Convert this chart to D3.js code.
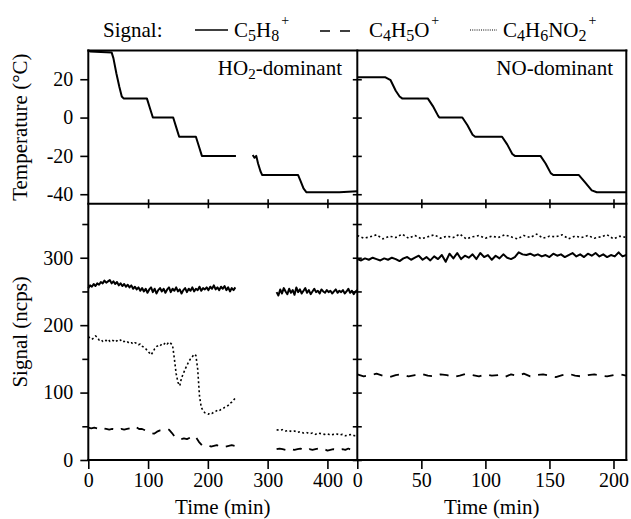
<!DOCTYPE html>
<html>
<head>
<meta charset="utf-8">
<script src="https://cdn.jsdelivr.net/npm/d3@7"></script>
<style>
body { margin: 0; background: #fff; }
svg { display: block; }
.axis line { stroke: #000; stroke-width: 1.6; }
.axis .domain { display: none; }
</style>
</head>
<body>
<div id="chart"></div>
<script>
/* TEMPERATURE (degC), [time (min), value] */
const tempHO2_a = [[0,35],[3,34.5],[39,34],[42,31],[47,23],[52,16],[56,11],[59,10],[98,10],[103,5],[108,0],[142,0],[147,-5],[152,-10],[180,-10],[185,-15],[190,-20],[247,-20]]
const tempHO2_b = [[275,-19.5],[278,-21],[281,-20],[284,-24],[288,-28],[291,-30],[351,-30],[355,-33],[360,-37],[365,-39],[420,-39],[450,-38.5]]
const tempNO = [[0,21],[22,21],[26,19.5],[30,14],[33,11],[35,10],[55,10],[59,6],[63,1],[64,0],[82,0],[86,-4],[90,-9],[92,-10],[113,-10],[117,-14],[121,-19],[123,-20],[143,-20],[147,-24],[151,-29],[153,-30],[173,-30],[178,-34],[183,-38],[187,-39],[210,-39]]

/* SIGNAL (ncps), sampled every `step` minutes from `start` */
// HO2-dominant, first part (start 0)
const c5h8_HO2_a = [255,259,257,261,258,262,260,264,262,266, 263,265,267,262,265,261,264,259,262,258,
  261,257,260,256,259,254,257,253,256,251, 255,250,254,248,253,256,249,254,247,252,
  255,250,254,248,253,256,249,254,251,256, 250,253,247,252,255,249,254,251,256,250,
  254,252,257,251,255,253,256,252,257,254, 259,253,256,252,257,254,258,252,256,250,
  255,252,256]
const c4h6no2_HO2_a = [183,181,179,181,184,182,178,179,176,178, 177,179,176,178,177,175,177,176,178,175,
  176,174,175,173,174,172,174,173,171,172, 169,167,165,162,159,156,160,165,168,170,
  169,172,171,174,172,175,173,170,150,128, 115,110,122,128,135,140,146,150,153,157,
  155,135,95,78,73,70,69,68,70,69, 71,72,74,73,75,76,78,79,81,84,
  86,89,92]
const c4h5o_HO2_a = [48,47,48,47,49,47,46,45,46,45, 44,46,45,46,47,50,49,46,46,44,
  42,40,39,42,44,45,44,45,40,34, 32,31,32,31,33,36,34,27,22,21,
  22,20,21,22,20,21,20,21,22,21]
// HO2-dominant, second part (start 315)
const c5h8_HO2_b = [249,244,253,247,255,250,246,254,248,252, 245,256,249,253,247,251,255,248,252,246,
  250,254,249,251,247,253,250,248,252,249, 251,247,250,253,248,251,249,252,247,250,
  254,248,251,246,250,252]
const c4h6no2_HO2_b = [45,44,45,43,44,42,43,41,42,40, 41,39,40,38,40,39,38,39,37,38, 39,37,38,36,37,38,36,37]
const c4h5o_HO2_b = [16,17,16,15,17,16,15,16,17,15, 14,16,15,16,17,15,16,14,15,16, 15,14,16,15,17,15,14,16]
// NO-dominant (start 0)
const c5h8_NO = [298,296,299,297,300,298,296,299,297,300, 298,295,299,301,297,300,303,297,301,296,
  302,298,304,294,306,299,307,298,303,300, 305,298,307,301,304,297,303,299,305,300,
  298,301,308,305,304,306,303,305,302,304, 301,306,303,305,301,304,307,302,305,301,
  306,303,307,302,305,301,304,302,308,302, 304]
const c4h6no2_NO = [333,329,331,334,328,332,330,335,329,333, 328,331,334,329,332,330,335,328,331,333,
  329,332,330,334,331,328,333,330,335,329, 332,331,334,328,332,330,333,329,331,334, 328,332,330]
const c4h5o_NO = [127,124,126,128,125,123,126,127,124,126, 128,125,124,127,126,123,125,128,126,124,
  127,125,126,123,127,125,128,124,126,127, 125,123,126,128,125,124,126,127,125,124, 126,127,125]

/* TICKS */
const tempTicks = [-40, -20, 0, 20]
const signalTicks = [0, 100, 200, 300]
const signalMinor = [50, 150, 250, 350]
const timeTicksL = [0, 100, 200, 300, 400]
const timeTicksR = [0, 50, 100, 150, 200]

const FONT = "Liberation Serif"

function sampled(start, step, values) {
    return values.map((v, i) => [start + i * step, v])
}

const W = 631, H = 519
const xLeft = 88.3, xMid = 357.3, xRight = 626.3
const yTop = 50.5, yMid = 203.8, yBottom = 460

const svg = d3.select("#chart")
    .append("svg")
    .attr("width", W)
    .attr("height", H)
    .attr("font-family", FONT)

const xL = d3.scaleLinear().domain([0, 450]).range([xLeft, xMid])
const xR = d3.scaleLinear().domain([0, 210]).range([xMid, xRight])
const yT = d3.scaleLinear().domain([-45, 35]).range([yMid, yTop])
const yB = d3.scaleLinear().domain([0, 380]).range([yBottom, yMid])

/* DATA LINES */
function drawLine(x, y, data, dash, width) {
    svg.append("path")
        .datum(data)
        .attr("fill", "none")
        .attr("stroke", "#000")
        .attr("stroke-width", width)
        .attr("stroke-dasharray", dash)
        .attr("stroke-linejoin", "round")
        .attr("d", d3.line().x(d => x(d[0])).y(d => y(d[1])))
}

drawLine(xL, yT, tempHO2_a, null, 2)
drawLine(xL, yT, tempHO2_b, null, 2)
drawLine(xR, yT, tempNO, null, 2)

drawLine(xL, yB, sampled(0, 3, c5h8_HO2_a), null, 2)
drawLine(xL, yB, sampled(315, 3, c5h8_HO2_b), null, 2)
drawLine(xL, yB, sampled(0, 3, c4h6no2_HO2_a), "2,2.5", 1.6)
drawLine(xL, yB, sampled(315, 5, c4h6no2_HO2_b), "2,2.5", 1.6)
drawLine(xL, yB, sampled(0, 5, c4h5o_HO2_a), "9,8", 1.8)
drawLine(xL, yB, sampled(315, 5, c4h5o_HO2_b), "9,8", 1.8)

drawLine(xR, yB, sampled(0, 3, c5h8_NO), null, 2)
drawLine(xR, yB, sampled(0, 5, c4h6no2_NO), "2,2.5", 1.6)
drawLine(xR, yB, sampled(0, 5, c4h5o_NO), "9,8", 1.8)

/* FRAME */
const frame = [
    [xLeft, yTop, xRight, yTop], [xLeft, yBottom, xRight, yBottom],
    [xLeft, yTop, xLeft, yBottom], [xRight, yTop, xRight, yBottom],
    [xMid, yTop, xMid, yBottom], [xLeft, yMid, xRight, yMid]
]
svg.selectAll("frame-line")
    .data(frame)
    .join("line")
    .attr("x1", d => d[0]).attr("y1", d => d[1])
    .attr("x2", d => d[2]).attr("y2", d => d[3])
    .attr("stroke", "#000")
    .attr("stroke-width", 2)
    .attr("stroke-linecap", "square")

/* AXES */
const fmt = d => String(d)
function addAxis(gen, tx, ty) {
    const g = svg.append("g")
        .attr("class", "axis")
        .attr("transform", `translate(${tx}, ${ty})`)
        .call(gen)
    g.attr("font-family", FONT).attr("font-size", 20)
    g.selectAll("text").attr("fill", "#000")
    return g
}

addAxis(d3.axisLeft(yT).tickValues(tempTicks).tickSize(8).tickPadding(7).tickFormat(fmt), xLeft, 0)
addAxis(d3.axisLeft(yB).tickValues(signalTicks).tickSize(8).tickPadding(7).tickFormat(fmt), xLeft, 0)
addAxis(d3.axisLeft(yB).tickValues(signalMinor).tickSize(6).tickFormat(""), xLeft, 0)
addAxis(d3.axisBottom(xL).tickValues(timeTicksL).tickSize(9).tickPadding(4).tickFormat(fmt), 0, yBottom)
addAxis(d3.axisBottom(xR).tickValues(timeTicksR).tickSize(9).tickPadding(4).tickFormat(fmt), 0, yBottom)

// ticks crossing the dividers
addAxis(d3.axisRight(yT).tickValues(tempTicks).tickFormat(""), xMid, 0)
    .selectAll(".tick line").attr("x1", -4.5).attr("x2", 4.5)
addAxis(d3.axisRight(yB).tickValues(signalTicks.concat(signalMinor)).tickFormat(""), xMid, 0)
    .selectAll(".tick line").attr("x1", -4.5).attr("x2", 4.5)
addAxis(d3.axisBottom(xL).tickValues([100, 200, 300, 400]).tickFormat(""), 0, yMid)
    .selectAll(".tick line").attr("y1", -4.5).attr("y2", 4.5)
addAxis(d3.axisBottom(xR).tickValues([50, 100, 150, 200]).tickFormat(""), 0, yMid)
    .selectAll(".tick line").attr("y1", -4.5).attr("y2", 4.5)

/* TEXT HELPER */
function label(x, y, anchor, size) {
    return svg.append("text")
        .attr("x", x).attr("y", y)
        .attr("text-anchor", anchor)
        .attr("font-family", FONT)
        .attr("font-size", size)
        .attr("fill", "#000")
}

/* AXIS TITLES */
label(0, 0, "middle", 21)
    .attr("transform", `translate(27, ${(yTop + yMid) / 2}) rotate(-90)`)
    .text("Temperature (°C)")

label(0, 0, "middle", 21)
    .attr("transform", `translate(27, ${(yMid + yBottom) / 2}) rotate(-90)`)
    .text("Signal (ncps)")

label((xLeft + xMid) / 2, 514, "middle", 21).text("Time (min)")
label((xMid + xRight) / 2, 514, "middle", 21).text("Time (min)")

/* PANEL LABELS */
const ho2 = label(342, 75, "end", 21)
ho2.append("tspan").text("HO")
ho2.append("tspan").attr("dy", 4).attr("font-size", 15).text("2")
ho2.append("tspan").attr("dy", -4).text("-dominant")

label(613, 75, "end", 21).text("NO-dominant")

/* LEGEND */
label(103, 36.5, "start", 21).text("Signal:")

// formula parts: [text, "n" normal | "s" subscript | "p" superscript]
function formula(x, parts) {
    const t = label(x, 36.5, "start", 21)
    let shift = 0
    parts.forEach(([txt, kind]) => {
        const target = kind === "s" ? 4 : kind === "p" ? -12 : 0
        const sp = t.append("tspan")
            .attr("dy", target - shift)
            .text(txt)
        if (kind === "s") sp.attr("font-size", 16)
        if (kind === "p") sp.attr("font-size", 14).attr("dx", 2)
        shift = target
    })
}

svg.append("line")
    .attr("x1", 195).attr("x2", 228).attr("y1", 30).attr("y2", 30)
    .attr("stroke", "#000").attr("stroke-width", 1.3)
formula(234, [["C", "n"], ["5", "s"], ["H", "n"], ["8", "s"], ["+", "p"]])

svg.append("line")
    .attr("x1", 320).attr("x2", 350).attr("y1", 31).attr("y2", 31)
    .attr("stroke", "#000").attr("stroke-width", 1.3)
    .attr("stroke-dasharray", "10,10")
formula(369, [["C", "n"], ["4", "s"], ["H", "n"], ["5", "s"], ["O", "n"], ["+", "p"]])

svg.append("line")
    .attr("x1", 470).attr("x2", 497).attr("y1", 30).attr("y2", 30)
    .attr("stroke", "#000").attr("stroke-width", 1)
    .attr("stroke-dasharray", "1,1.2")
formula(503, [["C", "n"], ["4", "s"], ["H", "n"], ["6", "s"], ["NO", "n"], ["2", "s"], ["+", "p"]])
</script>
</body>
</html>
